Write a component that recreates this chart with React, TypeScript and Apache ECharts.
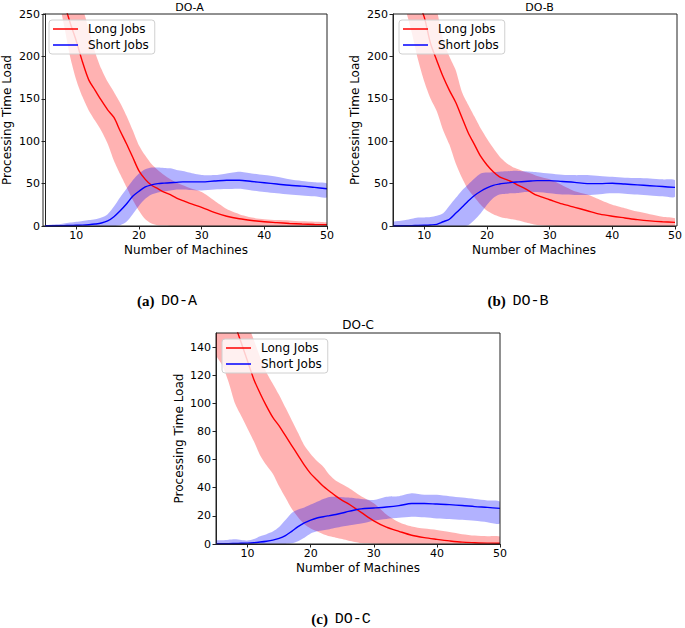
import React, { useEffect, useRef } from "react";
import * as echarts from "echarts";

// Number of machines (x values shared by every series)
const X = [5, 6, 7, 8, 9, 10, 11, 12, 13, 14, 15, 16, 17, 18, 19, 20, 21, 22, 23, 24, 25, 26, 27, 28, 30, 32, 34, 36, 38, 40, 42, 44, 46, 48, 50];

// ---- DO-A ----
const longMeanA = [370, 330, 295, 265, 240, 218, 193, 172, 160, 148, 137, 128, 112, 97, 81, 65, 55, 48, 44, 40, 37, 33, 30, 27, 22, 16, 11.5, 8.5, 6.5, 5, 4, 3, 2.3, 1.8, 1.5];
const longHiA = [420, 390, 360, 330, 305, 280, 257, 232, 205, 185, 170, 158, 145, 130, 113, 95, 83, 73, 66, 60, 55, 51, 48, 45, 40, 30, 20, 14, 10, 8, 7, 6.5, 5.5, 5, 4];
const longLoA = [330, 300, 272, 238, 200, 172, 152, 136, 124, 112, 97, 77, 61, 46, 31, 18, 8, 3, 1, 0.5, 0, 0, 0, 0, 0, 0, 0, 0, 0, 0, 0, 0, 0, 0, 0];
const shortMeanA = [0.3, 0.3, 0.4, 0.5, 0.6, 0.8, 1, 1.5, 2.3, 3.5, 6, 11, 18, 26, 35, 41, 46, 48.5, 50, 50.5, 51, 51.5, 52, 52, 52, 53, 54, 54, 52.5, 51, 49.5, 48, 47, 45.5, 44];
const shortHiA = [1, 1.5, 2, 3, 4, 5, 6, 7, 8, 10, 14, 23, 34, 44, 54, 62, 67, 69, 69, 68.5, 68, 66, 65, 63, 60, 60, 62, 64, 62, 60, 58, 55, 53, 51.5, 50];
const shortLoA = [0, 0, 0, 0, 0, 0, 0, 0, 0, 0, 0, 0, 1, 5, 14, 24, 32, 37, 39.5, 41, 42, 43, 43, 42.5, 42, 43, 43.5, 44, 42, 40, 38.5, 37, 36, 35, 34];

// ---- DO-B ----
const longMeanB = [370, 340, 310, 285, 265, 246, 215, 195, 176, 160, 146, 128, 110, 96, 82, 72, 64, 58, 55, 52, 48, 44.5, 40, 36, 31, 26, 22, 18, 14, 11.5, 9.5, 7.5, 6, 5, 4.3];
const longHiB = [450, 420, 390, 360, 330, 300, 275, 254, 220, 200, 184, 158, 143, 129, 115, 103, 92, 82, 75, 70, 67, 64, 62, 59, 55, 48, 41, 37, 31, 25, 21, 17, 14, 11, 9];
const longLoB = [320, 285, 256, 228, 196, 170, 150, 135, 113, 96, 74, 57, 43, 34, 25, 18, 14, 11, 9, 8, 6.5, 4.5, 2.8, 1.2, 0.3, 0, 0, 0, 0, 0, 0, 0, 0, 0, 0];
const shortMeanB = [0.3, 0.3, 0.4, 0.5, 0.6, 0.8, 1.2, 2, 5, 8, 15, 22, 29.5, 36, 41, 45, 48, 49.5, 50.5, 51.5, 52, 52.5, 53, 53.5, 53.5, 52.5, 51.5, 50, 50, 50.5, 49.5, 48.5, 47.5, 46.5, 45.5];
const shortHiB = [5, 6, 7, 8.5, 10, 10, 10.5, 12, 15, 24, 33, 42, 49, 56, 62, 63, 63.5, 64, 64.5, 65, 65, 64.5, 64, 63.5, 62, 60.5, 60, 60, 59, 58, 57, 56.5, 56, 55, 54];
const shortLoB = [0, 0, 0, 0, 0, 0, 0, 0, 0, 0, 0, 0, 1, 7, 15, 25, 33, 37, 38, 38.5, 39, 40, 40.5, 40, 38.5, 37, 36.5, 36.5, 37.5, 38.5, 38, 37, 36, 35, 34.5];

// ---- DO-C ----
const longMeanC = [200, 184, 169, 156, 143, 130, 117, 107, 98, 90, 84, 77, 70, 63, 56, 50, 45.5, 41, 37.5, 34, 31, 28.5, 25.5, 22.5, 16.5, 12, 9, 6.2, 4.5, 3.3, 2.2, 1.3, 0.9, 0.6, 0.5];
const longHiC = [230, 215, 200, 185, 170, 157, 145, 133, 122, 114, 106, 97, 88, 79, 70, 64, 59, 55, 49, 45, 42.5, 40, 37, 34, 29, 21, 15.5, 12.5, 11, 10, 8.5, 7, 6, 5.5, 5.2];
const longLoC = [135, 127, 115, 100, 91, 82, 73, 63, 56, 50, 41, 33, 25, 19, 14, 11, 9, 7, 5.5, 4.5, 3.5, 2.3, 1.5, 0.7, 0.2, 0, 0, 0, 0, 0, 0, 0, 0, 0, 0];
const shortMeanC = [0.3, 0.3, 0.3, 0.4, 0.5, 0.6, 0.9, 1.4, 2, 2.8, 4, 6, 9, 12.3, 15, 17, 18.5, 19.4, 20.2, 21, 22, 23.2, 24.2, 25, 25.6, 26.3, 27.3, 28.8, 28.8, 28.4, 28, 27.4, 26.6, 26, 25.3];
const shortHiC = [2.4, 2.6, 3, 3.3, 2.8, 2.4, 3.5, 5.5, 7, 8.8, 12, 17, 22, 24.5, 26, 28, 30, 32, 33.5, 33.6, 33.3, 33, 32.5, 32, 31.3, 33.6, 34, 36, 35, 35, 34, 33, 32, 31, 30];
const shortLoC = [0, 0, 0, 0, 0, 0, 0, 0, 0, 0, 0, 0, 0.5, 2, 4.5, 7.5, 9, 9.8, 10.5, 11.5, 12.5, 13.2, 13.8, 14.5, 16.5, 17.8, 18.6, 19.4, 19, 18.2, 17.8, 17.2, 16.5, 15.5, 14.7];

// Tick labels
const xTicks = [10, 20, 30, 40, 50];
const yTicksC = [0, 20, 40, 60, 80, 100, 120, 140];
const titles = ["DO-A", "DO-B", "DO-C"];
const captions = [
  ["(a)", "DO-A"],
  ["(b)", "DO-B"],
  ["(c)", "DO-C"],
];
const seriesNames = ["Long Jobs", "Short Jobs"];

const FONT = "DejaVu Sans";
const RED = "#ff0000";
const BLUE = "#0000ff";
const SMOOTH = 0.3;

const pairs = (ys: number[]) => X.map((x, i) => [x, ys[i]]);

function bandSeries(idx: number, key: string, hi: number[], lo: number[], color: string) {
  return {
    type: "custom",
    name: `${key}-band-${idx}`,
    xAxisIndex: idx,
    yAxisIndex: idx,
    clip: true,
    silent: true,
    z: 1,
    data: X.map((x, i) => [x, lo[i], hi[i]]),
    encode: { x: 0, y: [1, 2] },
    renderItem: (params: any, api: any) => {
      if (params.dataIndex !== 0) return null;
      const top = X.map((x, i) => api.coord([x, hi[i]]));
      const bottom = X.map((x, i) => api.coord([x, lo[i]])).reverse();
      const cs = params.coordSys;
      return {
        type: "group",
        clipPath: { type: "rect", shape: { x: cs.x, y: cs.y, width: cs.width, height: cs.height } },
        children: [
          {
            type: "polygon",
            shape: { points: [...top, ...bottom], smooth: 0.25 },
            style: { fill: color, stroke: "none" },
          },
        ],
      };
    },
  };
}

function lineSeries(idx: number, name: string, ys: number[], color: string) {
  return {
    type: "line",
    name,
    xAxisIndex: idx,
    yAxisIndex: idx,
    data: pairs(ys),
    symbol: "none",
    smooth: SMOOTH,
    color,
    lineStyle: { color, width: 1.4 },
    z: 3,
  };
}

function panel(idx: number, lm: number[], lh: number[], ll: number[], sm: number[], sh: number[], sl: number[]) {
  return [
    bandSeries(idx, "long", lh, ll, "rgba(255,0,0,0.3)"),
    bandSeries(idx, "short", sh, sl, "rgba(0,0,255,0.3)"),
    lineSeries(idx, seriesNames[0], lm, RED),
    lineSeries(idx, seriesNames[1], sm, BLUE),
  ];
}

const grids = [
  { left: 43, top: 14, width: 284, height: 212 },
  { left: 393, top: 14, width: 284, height: 212 },
  { left: 216, top: 333, width: 284, height: 211 },
];

export default function App() {
  const ref = useRef<HTMLDivElement>(null);
  useEffect(() => {
    if (!ref.current) return;
    const chart = echarts.init(ref.current, null, { renderer: "svg" });
    const axisText = { color: "#000", fontFamily: FONT, fontSize: 11 };
    const nameText = { color: "#000", fontFamily: FONT, fontSize: 12 };
    const xAxes = grids.map((_, i) => ({
      type: "value",
      gridIndex: i,
      min: 5,
      max: 50,
      name: "Number of Machines",
      nameLocation: "middle",
      nameGap: 18,
      nameTextStyle: nameText,
      axisLine: { show: true, lineStyle: { color: "#222", width: 1 } },
      axisTick: { show: true, length: 3.5, lineStyle: { color: "#222" }, customValues: xTicks },
      axisLabel: { ...axisText, margin: 4, customValues: xTicks },
      splitLine: { show: false },
    }));
    const yAxes = grids.map((_, i) => {
      const isC = i === 2;
      return {
        type: "value",
        gridIndex: i,
        min: 0,
        max: isC ? 150 : 250,
        interval: isC ? 20 : 50,
        name: "Processing Time Load",
        nameLocation: "middle",
        nameGap: isC ? 31 : 32,
        nameTextStyle: nameText,
        axisLine: { show: true, lineStyle: { color: "#222", width: 1 } },
        axisTick: isC
          ? { show: true, length: 3.5, lineStyle: { color: "#222" }, customValues: yTicksC }
          : { show: true, length: 3.5, lineStyle: { color: "#222" } },
        axisLabel: isC
          ? { ...axisText, margin: 5, customValues: yTicksC }
          : { ...axisText, margin: 5 },
        splitLine: { show: false },
      };
    });
    const legends = grids.map((g) => ({
      data: seriesNames,
      orient: "vertical",
      left: g.left + 6,
      top: g.top + 6,
      icon: "rect",
      itemWidth: 25,
      itemHeight: 1.5,
      itemGap: 4,
      padding: [3, 6, 3, 4],
      backgroundColor: "rgba(255,255,255,0.8)",
      borderColor: "#d0d0d0",
      borderWidth: 1,
      borderRadius: 3,
      selectedMode: false,
      textStyle: { color: "#000", fontFamily: FONT, fontSize: 12, padding: [0, 0, 0, 5] },
    }));
    const graphics: any[] = [];
    const titleSize = [11, 11, 12];
    grids.forEach((g, i) => {
      graphics.push({
        type: "text",
        x: g.left + g.width / 2 + (i < 2 ? 4.5 : 0),
        y: g.top - (i < 2 ? 7 : 8.5),
        style: {
          text: titles[i],
          fontFamily: FONT,
          fontSize: titleSize[i],
          fill: "#000",
          align: "center",
          verticalAlign: "middle",
        },
      });
      graphics.push({
        type: "rect",
        shape: { x: g.left, y: g.top, width: g.width, height: g.height },
        style: { fill: "none", stroke: "#222", lineWidth: 1 },
        silent: true,
        z: 10,
      });
    });
    const capPos = [
      [167, 301],
      [518, 301],
      [341, 619],
    ];
    captions.forEach((c, i) => {
      graphics.push({
        type: "text",
        x: capPos[i][0],
        y: capPos[i][1],
        style: {
          text: `{b|${c[0]}}  {m|${c[1]}}`,
          align: "center",
          verticalAlign: "middle",
          rich: {
            b: { fontFamily: "Liberation Serif", fontWeight: "bold", fontSize: 15, fill: "#000" },
            m: { fontFamily: "Liberation Mono", fontSize: 15, fill: "#000" },
          },
        },
      });
    });
    chart.setOption({
      animation: false,
      backgroundColor: "#fff",
      grid: grids.map((g) => ({ ...g, containLabel: false })),
      xAxis: xAxes,
      yAxis: yAxes,
      legend: legends,
      graphic: graphics,
      series: [
        ...panel(0, longMeanA, longHiA, longLoA, shortMeanA, shortHiA, shortLoA),
        ...panel(1, longMeanB, longHiB, longLoB, shortMeanB, shortHiB, shortLoB),
        ...panel(2, longMeanC, longHiC, longLoC, shortMeanC, shortHiC, shortLoC),
      ],
    });
    return () => chart.dispose();
  }, []);
  return (
    <div
      ref={ref}
      style={{ position: "fixed", left: 0, top: 0, width: 685, height: 628, background: "#fff" }}
    />
  );
}
